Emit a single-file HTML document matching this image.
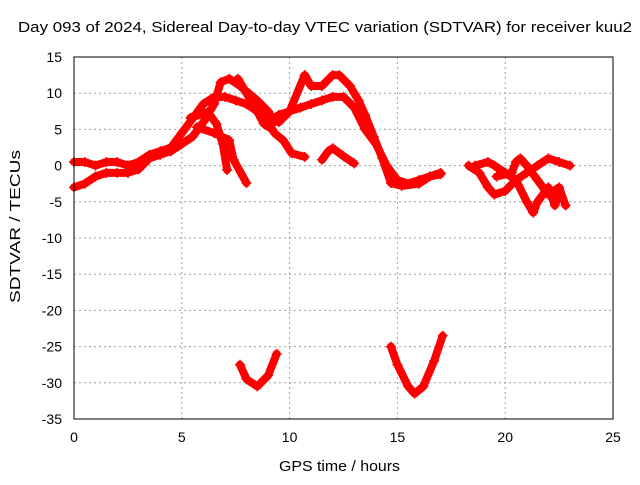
<!DOCTYPE html>
<html><head><meta charset="utf-8"><style>
body{margin:0;background:#fff}
svg text{font-family:"Liberation Sans",sans-serif;fill:#000}
</style></head><body>
<svg id="chart" width="640" height="480" viewBox="0 0 640 480" xmlns="http://www.w3.org/2000/svg">
<rect width="640" height="480" fill="#fff"/>
<text x="18" y="32" font-size="15" textLength="614" lengthAdjust="spacingAndGlyphs">Day 093 of 2024, Sidereal Day-to-day VTEC variation (SDTVAR) for receiver kuu2</text>
<text x="279" y="471" font-size="15" textLength="121" lengthAdjust="spacingAndGlyphs">GPS time / hours</text>
<text transform="translate(20,303) rotate(-90)" font-size="15" textLength="153" lengthAdjust="spacingAndGlyphs">SDTVAR / TECUs</text>
<g id="grid"></g><g id="ticks"></g><g id="marks"></g>
<rect x="74" y="57" width="539" height="362" fill="none" stroke="#000" stroke-width="1"/>
</svg>
<script>
const xTicks=[0,5,10,15,20,25];
const yTicks=[15,10,5,0,-5,-10,-15,-20,-25,-30,-35];
const track1=[[0,0.5],[0.5,0.5],[1,0],[1.5,0.5],[2,0.5],[2.5,0],[3,0.5],[3.5,1.5],[4,2],[4.5,2.5],[5,4.5],[5.5,6.5],[6,8.5],[6.5,9.5],[7,9.5],[7.5,9],[8,8.5],[8.5,7.5],[9,6],[9.5,7],[10,7.5],[10.5,8],[11,8.5],[11.5,9],[12,9.5],[12.5,9.5],[13,8],[13.5,5],[14,3],[14.5,0],[15,-2],[15.5,-2.5],[16,-2],[16.5,-1.5],[17,-1]];
const track2=[[0,-3],[0.5,-2.5],[1,-1.5],[1.5,-1],[2,-1],[2.5,-1],[3,-0.5],[3.5,1],[4,1.5],[4.5,2],[5,3],[5.5,4],[6,6],[6.5,8.5],[6.8,11.5],[7.2,12],[7.7,11],[8.5,9],[9,7.5],[9.3,6]];
const track3=[[7.6,12],[8,10],[8.4,8],[8.8,5.8],[9.2,5]];
const track4=[[5.4,6.6],[6.2,7.4],[6.6,5.8],[6.9,3],[7.1,-0.6]];
const track5=[[5.7,5.3],[6.5,4.5],[7.2,3.5],[7.4,0.8],[8,-2.4]];
const track6=[[9.3,4.5],[9.7,3.5],[10.1,1.7],[10.7,1.2]];
const track7=[[11.5,0.8],[11.8,2],[12,2.4],[12.5,1.3],[13,0.3]];
const track8=[[9.5,6],[10,7.5],[10.7,12.5],[11,11],[11.5,11],[12,12.5],[12.3,12.5],[12.8,11],[13.2,9],[13.5,7],[13.9,4],[14.3,1],[14.7,-2.4],[15.2,-2.8],[16,-2.5],[16.5,-1.5],[17,-1.2]];
const track9=[[18.3,0],[18.8,-1],[19.2,-3],[19.5,-4],[20,-3.5],[20.5,-2],[21,-1],[21.5,0],[22,1],[22.5,0.5],[23,0]];
const track10=[[18.6,0],[19.2,0.5],[19.5,0],[20,-1],[20.5,-2],[21,-5],[21.3,-6.5],[21.5,-5],[22,-3],[22.3,-5.5],[22.5,-4]];
const track11=[[19.6,-1.5],[20.3,-1],[20.5,0.5],[20.7,1],[21,0],[21.5,-2],[22,-4],[22.5,-3],[22.8,-5.5]];
const track12=[[7.7,-27.5],[8,-29.5],[8.5,-30.5],[9,-29],[9.4,-26]];
const track13=[[14.7,-25],[15,-27.5],[15.5,-30.5],[15.8,-31.5],[16.2,-30.5],[16.7,-27],[17.1,-23.5]];
const tracks=[track1,track2,track3,track4,track5,track6,track7,track8,track9,track10,track11,track12,track13];

const NS='http://www.w3.org/2000/svg';
const X=h=>74+(h/25)*539;
const Y=v=>57+(15-v)/50*362;
function mk(tag,attrs,parent){const e=document.createElementNS(NS,tag);for(const k in attrs)e.setAttribute(k,attrs[k]);parent.appendChild(e);return e;}
const grid=document.getElementById('grid'),ticks=document.getElementById('ticks'),marks=document.getElementById('marks');
xTicks.forEach(t=>{
  if(t>0&&t<25){const g=mk('line',{x1:X(t),x2:X(t),y1:57,y2:419,stroke:'#a0a0a0','stroke-dasharray':'2,3'},grid);
  
  }
  const l=mk('text',{x:X(t),y:442,'font-size':'14','text-anchor':'middle'},ticks);l.textContent=t;
  
  
});
yTicks.forEach(t=>{
  if(t<15&&t>-35){const g=mk('line',{x1:74,x2:613,y1:Y(t),y2:Y(t),stroke:'#a0a0a0','stroke-dasharray':'2,3'},grid);
  
  }
  const l=mk('text',{x:62,y:Y(t)+5,'font-size':'14','text-anchor':'end'},ticks);l.textContent=t;
  
  
});
tracks.forEach((tr,i)=>{
  const p=mk('polyline',{points:tr.map(d=>X(d[0])+','+Y(d[1])).join(' '),fill:'none',stroke:'#ff0000','stroke-width':8,'stroke-linejoin':'round','stroke-linecap':'round'},marks);
  
  
  tr.forEach(d=>{
    const m=mk('path',{d:`M${X(d[0])-5},${Y(d[1])}h10M${X(d[0])},${Y(d[1])-5}v10`,stroke:'#ff0000','stroke-width':1.5},marks);
    
    
  });
});
</script>
</body></html>
